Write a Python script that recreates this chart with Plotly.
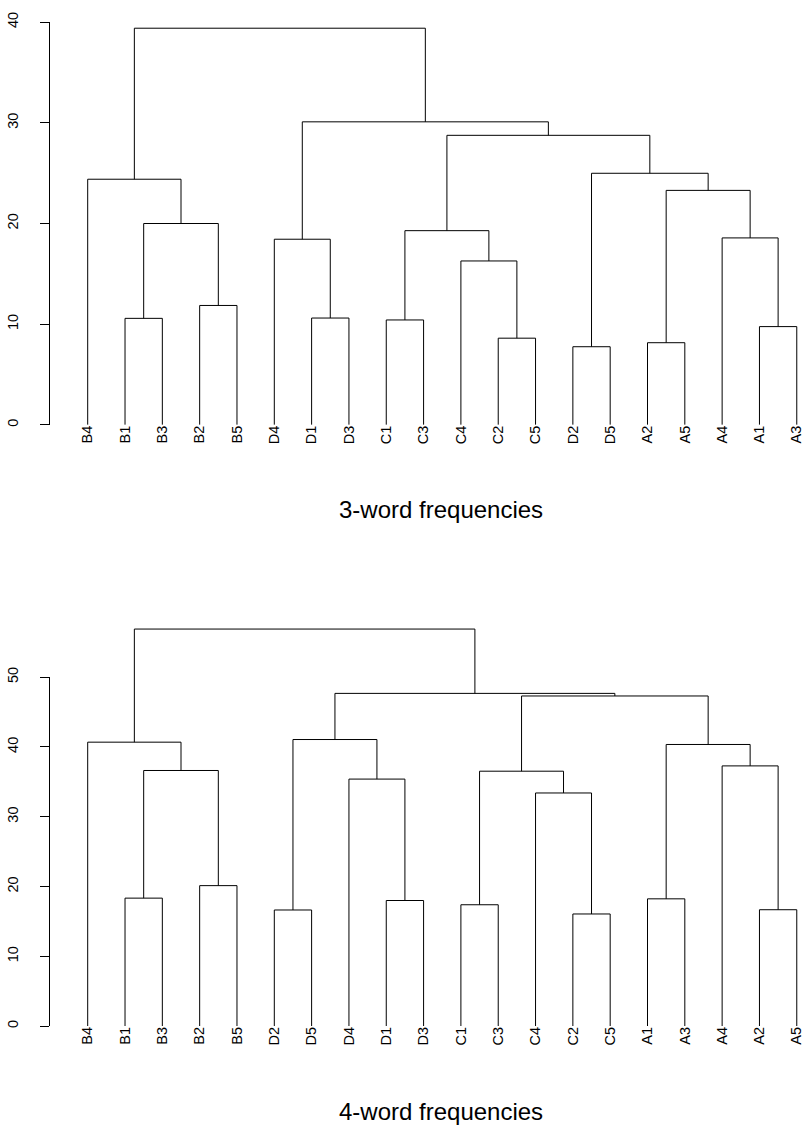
import plotly.graph_objects as go

# ---------------- data ----------------
leaves_3 = ["B4", "B1", "B3", "B2", "B5", "D4", "D1", "D3", "C1", "C3",
            "C4", "C2", "C5", "D2", "D5", "A2", "A5", "A4", "A1", "A3"]
# merges: negative = leaf (1-based position in leaf order), positive = earlier merge
merge_left_3 = [-2, -4, 1, -1, -7, -6, -9, -12, -11, 7, -14, -16, -19, -18, 12, 11, 10, 6, 4]
merge_right_3 = [-3, -5, 2, 3, -8, 5, -10, -13, 8, 9, -15, -17, -20, 13, 14, 15, 16, 17, 18]
heights_3 = [10.58, 11.86, 20.0, 24.4, 10.61, 18.44, 10.42, 8.61, 16.28, 19.29,
             7.76, 8.16, 9.76, 18.57, 23.29, 24.99, 28.76, 30.1, 39.4]

leaves_4 = ["B4", "B1", "B3", "B2", "B5", "D2", "D5", "D4", "D1", "D3",
            "C1", "C3", "C4", "C2", "C5", "A1", "A3", "A4", "A2", "A5"]
merge_left_4 = [-2, -4, 1, -1, -6, -9, -8, 5, -11, -14, -13, 9, -16, -19, -18, 13, 12, 8, 4]
merge_right_4 = [-3, -5, 2, 3, -7, -10, 6, 7, -12, -15, 10, 11, -17, -20, 14, 15, 16, 17, 18]
heights_4 = [18.34, 20.13, 36.63, 40.69, 16.64, 18.0, 35.40, 41.07, 17.39, 16.07,
             33.41, 36.53, 18.24, 16.68, 37.29, 40.36, 47.31, 47.68, 56.9]

ticks_3 = [0, 10, 20, 30, 40]
ticks_4 = [0, 10, 20, 30, 40, 50]
title_3 = "3-word frequencies"
title_4 = "4-word frequencies"

# ---------------- layout constants (pixels) ----------------
W, H = 805, 1132
AXIS_PX = 50.0
LEAF1_PX = 87.7
LEAF_STEP = 37.32
TOP_Y0_PX, TOP_UNIT = 419.3, 10.175
BOT_Y0_PX, BOT_UNIT = 1027.0, 7.053
FONT = "Liberation Sans, Arial, Helvetica, sans-serif"


def paper_y(px):
    return 1 - px / H


def x_at(px):
    return 1 + (px - LEAF1_PX) / LEAF_STEP


def segments(left, right, heights):
    pos, hgt = {}, {}
    xs, ys = [], []

    def node(i):
        if i < 0:
            return float(-i), 0.0
        return pos[i], hgt[i]

    for k, (a, b, h) in enumerate(zip(left, right, heights), start=1):
        xa, ha = node(a)
        xb, hb = node(b)
        xs += [xa, xa, xb, xb, None]
        ys += [ha, h, h, hb, None]
        pos[k] = (xa + xb) / 2
        hgt[k] = h
    return xs, ys


fig = go.Figure()

x3, y3 = segments(merge_left_3, merge_right_3, heights_3)
fig.add_trace(go.Scatter(x=x3, y=y3, mode="lines", line=dict(color="black", width=1),
                         xaxis="x", yaxis="y", hoverinfo="skip", showlegend=False))
x4, y4 = segments(merge_left_4, merge_right_4, heights_4)
fig.add_trace(go.Scatter(x=x4, y=y4, mode="lines", line=dict(color="black", width=1),
                         xaxis="x2", yaxis="y3", hoverinfo="skip", showlegend=False))
# empty trace so that the visible bottom axis pair (x2, y2) is created
fig.add_trace(go.Scatter(x=[None], y=[None], mode="lines", xaxis="x2", yaxis="y2",
                         hoverinfo="skip", showlegend=False))

xrange = [x_at(AXIS_PX), x_at(W)]
xdomain = [AXIS_PX / W, 1.0]
leaf_pos = list(range(1, 21))

xcommon = dict(domain=xdomain, range=xrange, showgrid=False, zeroline=False, showline=False,
               ticks="", tickangle=-90, ticklabelstandoff=-3,
               tickvals=leaf_pos, tickfont=dict(family=FONT, size=14.5, color="black"))
ycommon = dict(showgrid=False, zeroline=False, showline=True, linecolor="black", linewidth=1,
               ticks="outside", ticklen=9, tickwidth=1, tickcolor="black", tickangle=-90,
               ticklabelstandoff=16, tickfont=dict(family=FONT, size=14.5, color="black"))

top_dom = [paper_y(TOP_Y0_PX), paper_y(TOP_Y0_PX - ticks_3[-1] * TOP_UNIT)]
bot_vis_dom = [paper_y(BOT_Y0_PX), paper_y(BOT_Y0_PX - ticks_4[-1] * BOT_UNIT)]
BOT_RANGE_TOP = 60
bot_data_dom = [paper_y(BOT_Y0_PX), paper_y(BOT_Y0_PX - BOT_RANGE_TOP * BOT_UNIT)]

fig.update_layout(
    width=W, height=H, margin=dict(l=0, r=0, t=0, b=0),
    paper_bgcolor="white", plot_bgcolor="rgba(0,0,0,0)",
    xaxis=dict(anchor="y", ticktext=leaves_3, **xcommon),
    yaxis=dict(anchor="x", domain=top_dom, range=[0, ticks_3[-1]], tickvals=ticks_3, **ycommon),
    xaxis2=dict(anchor="y2", ticktext=leaves_4, **xcommon),
    yaxis2=dict(anchor="x2", domain=bot_vis_dom, range=[0, ticks_4[-1]], tickvals=ticks_4, **ycommon),
    yaxis3=dict(anchor="x2", domain=bot_data_dom, range=[0, BOT_RANGE_TOP], visible=False),
    annotations=[
        dict(text=title_3, xref="paper", yref="paper", x=441.5 / W, y=paper_y(505),
             xanchor="center", yanchor="middle", showarrow=False,
             font=dict(family=FONT, size=24, color="black")),
        dict(text=title_4, xref="paper", yref="paper", x=441.5 / W, y=paper_y(1113),
             xanchor="center", yanchor="middle", showarrow=False,
             font=dict(family=FONT, size=24, color="black")),
    ],
)

fig.write_html("out.html")
